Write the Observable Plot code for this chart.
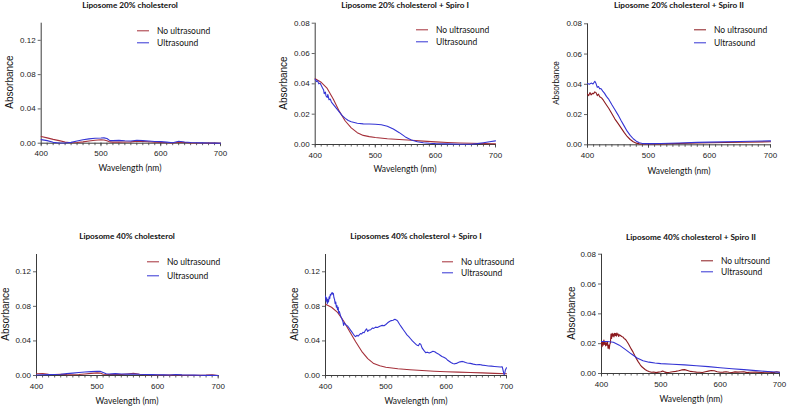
<!DOCTYPE html>
<html><head><meta charset="utf-8">
<script src="https://cdn.jsdelivr.net/npm/d3@7"></script>
<script src="https://cdn.jsdelivr.net/npm/@observablehq/plot@0.6"></script>
<style>
body{margin:0;background:#fff;}
#root{position:relative;width:787px;height:407px;overflow:hidden;font-family:Lato,"Open Sans",sans-serif;color:#111;}
.title{position:absolute;font-weight:bold;font-size:8.2px;transform:translate(-50%,-50%);white-space:nowrap;}
.xlab{position:absolute;font-size:8.5px;transform:translate(-50%,-50%);white-space:nowrap;}
.ylab{position:absolute;font-family:"Liberation Sans",Arial,sans-serif;font-size:10px;transform:translate(-50%,-50%) rotate(-90deg);white-space:nowrap;}
.leg{position:absolute;font-size:8.5px;white-space:nowrap;transform:translateY(-50%);}
.legline{position:absolute;height:1.4px;transform:translateY(-50%);}
#root svg{position:absolute;overflow:visible;}
</style></head>
<body><div id="root"></div>
<script>
// ---------- Data ----------
const titles = ["Liposome 20% cholesterol","Liposome 20% cholesterol + Spiro I","Liposome 20% cholesterol + Spiro II",
  "Liposome 40% cholesterol","Liposomes 40% cholesterol + Spiro I","Liposome 40% cholesterol + Spiro II"];
const legendNo = ["No ultrasound","No ultrasound","No ultrasound","No ultrasound","No ultrasound","No ultrsound"];
const legendUs = "Ultrasound";
const xTicks = [400,500,600,700];
const yTicksTall = [0,0.04,0.08,0.12];
const yTicksShort = [0,0.02,0.04,0.06,0.08];

// Panel 1: Liposome 20% cholesterol
const p1NoWl  = [400,410,420,430,440,450,460,470,480,490,500,505,510,515,520,530,540,550,560,570,580,590,600,610,620,630,640,650,660,670,680,690,700];
const p1NoAbs = [0.0078,0.0062,0.0045,0.003,0.0013,0.0006,0.0008,0.0015,0.0025,0.0034,0.004,0.0038,0.0028,0.0015,0.0012,0.0012,0.0014,0.0016,0.0022,0.002,0.0017,0.0013,0.001,0.0005,0.0002,0.0012,0.0008,0.0004,0.0003,0.0002,0.0001,0.0001,0];
const p1UsWl  = [400,410,420,430,440,450,460,470,480,490,500,505,510,515,520,530,540,550,560,570,580,590,600,610,620,630,640,650,660,670,680,690,700];
const p1UsAbs = [0.0042,0.003,0.001,0.0003,0.0002,0.001,0.0025,0.004,0.005,0.0058,0.006,0.0062,0.0055,0.003,0.003,0.0033,0.0028,0.0025,0.0035,0.003,0.0026,0.002,0.0018,0.0012,0.0005,0.0022,0.0014,0.0008,0.0006,0.0004,0.0002,0.0001,0];

// Panel 2: Liposome 20% cholesterol + Spiro I
const p2NoWl  = [400,410,420,430,440,450,460,470,480,490,500,520,540,560,580,600,620,640,660,680,700];
const p2NoAbs = [0.0433,0.041,0.037,0.030,0.022,0.0155,0.011,0.0078,0.006,0.0052,0.0046,0.0038,0.0033,0.0028,0.0022,0.0017,0.0013,0.001,0.0008,0.0006,0.0005];
const p2UsWl  = [400,402,404,406,408,410,412,414,415,417,418,420,421,423,425,427,430,435,440,445,450,455,460,470,480,490,500,510,520,530,540,550,560,570,580,590,600,620,640,660,670,680,690,700];
const p2UsAbs = [0.043,0.0415,0.042,0.040,0.0405,0.039,0.0375,0.036,0.0335,0.0345,0.032,0.031,0.033,0.0295,0.030,0.028,0.0265,0.024,0.0215,0.019,0.0172,0.0158,0.015,0.014,0.0136,0.0135,0.0134,0.013,0.012,0.0102,0.0078,0.005,0.003,0.0018,0.0012,0.0008,0.0006,0.0004,0.0002,0.0002,0.0006,0.0012,0.0018,0.0024];

// Panel 3: Liposome 20% cholesterol + Spiro II
const p3NoWl  = [400,402,404,406,408,410,412,414,416,418,420,423,426,430,435,440,445,450,455,460,465,470,475,480,485,490,500,520,550,580,600,650,700];
const p3NoAbs = [0.0335,0.0325,0.0345,0.033,0.034,0.0338,0.035,0.0345,0.0325,0.0335,0.0318,0.031,0.0295,0.027,0.024,0.0205,0.017,0.0142,0.0112,0.0082,0.0055,0.0035,0.002,0.0011,0.0006,0.0005,0.0005,0.0006,0.0009,0.0012,0.0014,0.0017,0.002];
const p3UsWl  = [400,403,406,409,412,414,416,418,420,422,425,428,431,435,440,445,450,455,460,465,470,475,480,485,490,500,520,550,580,600,650,700];
const p3UsAbs = [0.0405,0.040,0.0408,0.0402,0.042,0.0405,0.038,0.0385,0.037,0.0372,0.0355,0.034,0.032,0.030,0.0265,0.0232,0.0198,0.016,0.0125,0.009,0.0062,0.004,0.0024,0.0014,0.0009,0.0008,0.0009,0.0012,0.0016,0.0018,0.0022,0.0026];

// Panel 4: Liposome 40% cholesterol
const p4NoWl  = [400,410,420,430,440,450,460,470,480,490,500,505,510,520,530,540,550,560,570,580,590,600,610,620,630,640,650,660,670,680,690,700];
const p4NoAbs = [0.002,0.0022,0.0015,0.0012,0.0015,0.001,0.0008,0.0012,0.0018,0.0025,0.003,0.0028,0.0015,0.0012,0.0014,0.0012,0.0018,0.0025,0.0015,0.001,0.0008,0.0006,0.0005,0.0004,0.0008,0.0004,0.0003,0.0002,0.0002,0.0004,0.0008,0];
const p4UsWl  = [400,410,420,430,440,450,460,470,480,490,500,505,510,515,520,530,540,550,560,570,580,590,600,610,620,630,640,650,660,670,680,690,700];
const p4UsAbs = [0.0005,0.0008,0.001,0.0012,0.0015,0.0022,0.0028,0.0035,0.004,0.0045,0.005,0.0048,0.0035,0.002,0.0018,0.0022,0.0018,0.0016,0.0018,0.0014,0.0012,0.001,0.0009,0.0007,0.0006,0.0011,0.0007,0.0005,0.0004,0.0003,0.0002,0.0001,0];

// Panel 5: Liposomes 40% cholesterol + Spiro I
const p5NoWl  = [400,410,420,430,440,450,460,470,480,490,500,520,540,560,580,600,620,640,660,680,700];
const p5NoAbs = [0.0824,0.079,0.073,0.063,0.051,0.039,0.028,0.0195,0.0138,0.0112,0.0095,0.0078,0.0067,0.0057,0.005,0.0044,0.0039,0.0035,0.003,0.0025,0.002];
const p5UsWl  = [400,401,402,403,404,405,406,407,408,409,410,411,412,413,414,415,416,417,418,419,420,421,422,423,425,427,429,430,431,433,435,437,440,443,446,448,450,452,454,456,458,460,462,464,466,468,470,472,475,478,480,483,486,490,494,497,500,503,506,509,512,515,518,520,523,526,529,532,535,538,541,544,547,550,552,554,556,558,560,563,566,569,572,575,578,581,584,587,590,593,596,599,602,605,608,611,614,617,620,623,626,629,632,635,640,645,650,655,660,665,670,675,680,685,690,693,695,696,697,698,700];
const p5UsAbs = [0.092,0.086,0.09,0.083,0.088,0.085,0.091,0.089,0.094,0.093,0.095,0.096,0.094,0.095,0.09,0.088,0.083,0.085,0.079,0.081,0.076,0.079,0.072,0.074,0.069,0.066,0.062,0.058,0.061,0.059,0.058,0.057,0.054,0.051,0.048,0.046,0.045,0.0465,0.0455,0.047,0.0485,0.048,0.05,0.0495,0.052,0.054,0.051,0.0525,0.053,0.055,0.0545,0.056,0.0555,0.057,0.058,0.0575,0.059,0.061,0.0625,0.0635,0.064,0.065,0.064,0.0625,0.059,0.056,0.053,0.05,0.047,0.045,0.0425,0.04,0.038,0.036,0.035,0.0345,0.037,0.036,0.032,0.029,0.0265,0.027,0.026,0.027,0.028,0.0275,0.026,0.025,0.0235,0.022,0.021,0.02,0.018,0.0165,0.015,0.0138,0.0135,0.014,0.015,0.0158,0.0163,0.016,0.015,0.0145,0.014,0.0132,0.0125,0.0128,0.012,0.0115,0.011,0.0108,0.0105,0.0102,0.0098,0.01,0.004,0.001,0.002,0.006,0.009];

// Panel 6: Liposome 40% cholesterol + Spiro II
const p6NoWl  = [400,401,402,403,404,405,406,407,408,409,410,411,412,413,414,415,416,417,418,419,420,421,422,423,424,425,426,427,428,429,430,432,434,436,438,440,442,444,446,448,450,453,456,459,462,465,468,471,474,477,480,484,488,492,496,500,503,506,510,515,520,525,530,535,540,545,550,555,560,565,570,575,580,585,590,595,600,605,610,615,620,625,630,640,645,650,660,670,680,690,695,700];
const p6NoAbs = [0.021,0.018,0.0215,0.019,0.0225,0.0195,0.021,0.0185,0.0205,0.019,0.0215,0.017,0.019,0.0165,0.0195,0.0205,0.0265,0.0235,0.027,0.025,0.0265,0.0245,0.027,0.0255,0.0268,0.025,0.0272,0.0258,0.0265,0.0248,0.026,0.0255,0.0248,0.0245,0.0235,0.023,0.022,0.0208,0.0195,0.018,0.0165,0.0145,0.012,0.0098,0.0078,0.006,0.0045,0.0035,0.0025,0.0018,0.0013,0.0008,0.001,0.0006,0.0009,0.0012,0.0016,0.0011,0.0006,0.0008,0.0012,0.0014,0.0018,0.0024,0.0026,0.002,0.0014,0.0012,0.0009,0.0008,0.0007,0.0012,0.0016,0.002,0.0018,0.0012,0.0008,0.0009,0.0012,0.0008,0.0007,0.0011,0.0009,0.0012,0.0006,0.0008,0.0009,0.0007,0.001,0.0006,0.0012,0.0008];
const p6UsWl  = [400,410,420,430,440,450,460,470,480,490,500,520,540,560,580,600,620,640,660,680,700];
const p6UsAbs = [0.0215,0.0215,0.021,0.019,0.0162,0.0132,0.0104,0.0085,0.0076,0.007,0.0066,0.0062,0.0058,0.0052,0.0046,0.0039,0.0032,0.0026,0.0019,0.0013,0.0008];

const colorNo = "#a5303a", colorNoDark = "#8c1a1f", colorUs = "#3434d4";

// ---------- Layout (page coordinates) ----------
const panels = [
 {cell:[0,0,262,200],   area:[40.7,220,22.7,142.7], ymax:0.14, yt:yTicksTall,  no:[p1NoWl,p1NoAbs], us:[p1UsWl,p1UsAbs], title:[130,5],  xlab:[130,168],  ylab:[9.3,81.5,10],  leg:[137,157,31,43], red:colorNo},
 {cell:[262,0,262,200], area:[314.7,495,22.7,144],  ymax:0.08, yt:yTicksShort, no:[p2NoWl,p2NoAbs], us:[p2UsWl,p2UsAbs], title:[405,5],  xlab:[405,169],  ylab:[282.7,82.5,10], leg:[416,436,30,42], red:colorNo},
 {cell:[524,0,263,200], area:[587,770,23.3,144.3],  ymax:0.08, yt:yTicksShort, no:[p3NoWl,p3NoAbs], us:[p3UsWl,p3UsAbs], title:[679,5],  xlab:[679,171],  ylab:[555.7,83.3,8.2], leg:[694,714,30,43], red:colorNoDark},
 {cell:[0,200,262,207], area:[36,217.7,254,375],    ymax:0.14, yt:yTicksTall,  no:[p4NoWl,p4NoAbs], us:[p4UsWl,p4UsAbs], title:[127,236], xlab:[127,401], ylab:[5,314,10],     leg:[147,167,262,276], red:colorNo},
 {cell:[262,200,262,207], area:[325,506,254,375],   ymax:0.14, yt:yTicksTall,  no:[p5NoWl,p5NoAbs], us:[p5UsWl,p5UsAbs], title:[416,236], xlab:[416,401], ylab:[293.7,314,10], leg:[442,461,262,273], red:colorNo},
 {cell:[524,200,263,207], area:[601,779,253.7,373], ymax:0.08, yt:yTicksShort, no:[p6NoWl,p6NoAbs], us:[p6UsWl,p6UsAbs], title:[691,237], xlab:[691,399], ylab:[570.7,313,10], leg:[701,721,261,272], red:colorNoDark}
];

const root = document.getElementById("root");
function addDiv(cls, text, x, y, extra) {
  const d = document.createElement("div");
  d.className = cls; d.textContent = text;
  d.style.left = x + "px"; d.style.top = y + "px";
  if (extra) Object.assign(d.style, extra);
  root.appendChild(d);
  return d;
}

panels.forEach((p, i) => {
  const [cl, ct, cw, ch] = p.cell;
  const [x0, x1, yT, yB] = p.area;
  const toRows = ([wl, ab]) => wl.map((w, k) => ({wl: w, abs: ab[k]}));
  const noRows = toRows(p.no), usRows = toRows(p.us);
  const axisColor = "#3c3c3c";
  const chart = Plot.plot({
    width: cw, height: ch,
    marginLeft: x0 - cl, marginRight: cl + cw - x1,
    marginTop: yT - ct, marginBottom: ct + ch - yB,
    x: {domain: [400, 700], axis: null, label: null},
    y: {domain: [0, p.ymax], axis: null, label: null},
    style: {fontFamily: "'Liberation Sans', Arial, sans-serif", fontSize: "8px", color: "#222", background: "transparent", overflow: "visible"},
    marks: [
      Plot.axisX({ticks: d3.range(400, 701, 10), tickSize: 2.5, tickFormat: () => "", stroke: axisColor, strokeWidth: 0.8, label: null}),
      Plot.axisX({ticks: xTicks, tickSize: 3.5, tickPadding: 4, tickFormat: d => String(d), stroke: axisColor, strokeWidth: 0.8, fill: "#222", label: null}),
      Plot.axisY({ticks: p.yt, tickSize: 3, tickPadding: 2.5, tickFormat: d3.format(".2f"), stroke: axisColor, strokeWidth: 0.8, fill: "#222", label: null}),
      Plot.ruleY([0], {stroke: axisColor, strokeWidth: 1}),
      Plot.ruleX([400], {stroke: axisColor, strokeWidth: 1}),
      Plot.line(noRows, {x: "wl", y: "abs", stroke: p.red, strokeWidth: 1.1, curve: "linear"}),
      Plot.line(usRows, {x: "wl", y: "abs", stroke: colorUs, strokeWidth: 1.1, curve: "linear"})
    ]
  });
  chart.style.left = cl + "px"; chart.style.top = ct + "px";
  root.appendChild(chart);

  addDiv("title", titles[i], p.title[0], p.title[1]);
  addDiv("xlab", "Wavelength (nm)", p.xlab[0], p.xlab[1]);
  addDiv("ylab", "Absorbance", p.ylab[0], p.ylab[1], {fontSize: p.ylab[2] + "px"});
  const [lx, tx, ly1, ly2] = p.leg;
  addDiv("legline", "", lx, ly1, {width: (tx - lx - 8) + "px", background: p.red});
  addDiv("legline", "", lx, ly2, {width: (tx - lx - 8) + "px", background: colorUs});
  addDiv("leg", legendNo[i], tx, ly1);
  addDiv("leg", legendUs, tx, ly2);
});
</script>
</body></html>
